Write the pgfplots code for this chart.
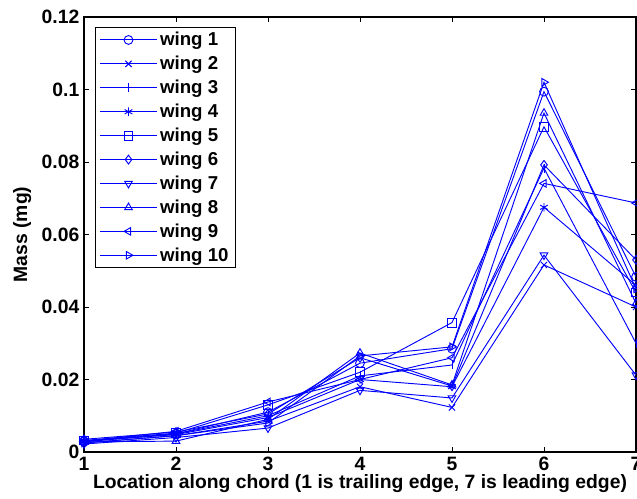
\documentclass[border=0pt]{standalone}
\usepackage{fontspec}
\setmainfont{Liberation Sans}
\usepackage{pgfplots}
\pgfplotsset{compat=1.18}
\definecolor{wingblue}{rgb}{0,0,1}
\begin{document}
\begin{tikzpicture}
\begin{axis}[
  name=ax,
  at={(0,0)}, anchor=south west,
  scale only axis,
  width=414pt, height=326.25pt,
  xmin=1, xmax=7, ymin=0, ymax=0.12,
  xtick={1,2,3,4,5,6,7},
  xticklabels={1,2,3,4,5,6,7},
  ytick={0,0.02,0.04,0.06,0.08,0.1,0.12},
  yticklabels={0,0.02,0.04,0.06,0.08,0.1,0.12},
  tick align=inside,
  major tick length=4pt,
  tick style={black, line width=0.5pt},
  axis line style={black, line width=1.1pt},
  ticklabel style={font=\fontsize{14.5}{16}\selectfont\bfseries},
  label style={font=\fontsize{14.5}{16}\selectfont\bfseries},
  xlabel={Location along chord (1 is trailing edge, 7 is leading edge)},
  ylabel={Mass (mg)},
  xlabel style={yshift=4pt},
  ylabel style={yshift=1pt},
  legend style={at={(0.02,0.977)}, anchor=north west, draw=black,
    line width=0.8pt, font=\fontsize{14}{15}\selectfont\bfseries,
    inner xsep=3pt, inner ysep=1.5pt, row sep=2.3pt,
    legend cell align=left},
  legend image code/.code={
    \draw[#1, mark=none] (0cm,0cm) -- (1.5cm,0cm);
    \draw[#1] plot coordinates {(0.75cm,0cm)};
  },
]
\pgfplotsset{
  wing/.style={color=wingblue, draw=wingblue, line width=0.7pt, mark size=3.3pt},
  every mark/.append style={draw=wingblue, solid, line width=0.7pt, fill=none}}
% wing 1
\addplot[wing, mark=o] coordinates {(1,0.0030) (2,0.0050) (3,0.0110) (4,0.0245) (5,0.0285) (6,0.0994) (7,0.0483)};
% wing 2
\addplot[wing, mark=x] coordinates {(1,0.0025) (2,0.0045) (3,0.0085) (4,0.0180) (5,0.0123) (6,0.0516) (7,0.0400)};
% wing 3
\addplot[wing, mark=|] coordinates {(1,0.0028) (2,0.0050) (3,0.0100) (4,0.0210) (5,0.0240) (6,0.0783) (7,0.0300)};
% wing 4
\addplot[wing, mark=asterisk] coordinates {(1,0.0030) (2,0.0048) (3,0.0095) (4,0.0200) (5,0.0180) (6,0.0675) (7,0.0460)};
% wing 5
\addplot[wing, mark=square] coordinates {(1,0.0032) (2,0.0052) (3,0.0130) (4,0.0220) (5,0.0357) (6,0.0897) (7,0.0440)};
% wing 6
\addplot[wing, mark=diamond] coordinates {(1,0.0035) (2,0.0055) (3,0.0105) (4,0.0260) (5,0.0182) (6,0.0792) (7,0.0530)};
% wing 7
\addplot[wing, mark=triangle, mark options={rotate=180}] coordinates {(1,0.0022) (2,0.0040) (3,0.0066) (4,0.0170) (5,0.0149) (6,0.0543) (7,0.0212)};
% wing 8
\addplot[wing, mark=triangle] coordinates {(1,0.0028) (2,0.0030) (3,0.0090) (4,0.0273) (5,0.0185) (6,0.0935) (7,0.0410)};
% wing 9
\addplot[wing, mark=triangle, mark options={rotate=90}] coordinates {(1,0.0030) (2,0.0057) (3,0.0138) (4,0.0200) (5,0.0260) (6,0.0741) (7,0.0687)};
% wing 10
\addplot[wing, mark=triangle, mark options={rotate=-90}] coordinates {(1,0.0025) (2,0.0045) (3,0.0080) (4,0.0265) (5,0.0290) (6,0.1020) (7,0.0450)};
\legend{wing 1,wing 2,wing 3,wing 4,wing 5,wing 6,wing 7,wing 8,wing 9,wing 10}
\end{axis}
\pgfresetboundingbox
\useasboundingbox (-63pt,-35.25pt) rectangle (414.75pt,339pt);
\end{tikzpicture}
\end{document}
